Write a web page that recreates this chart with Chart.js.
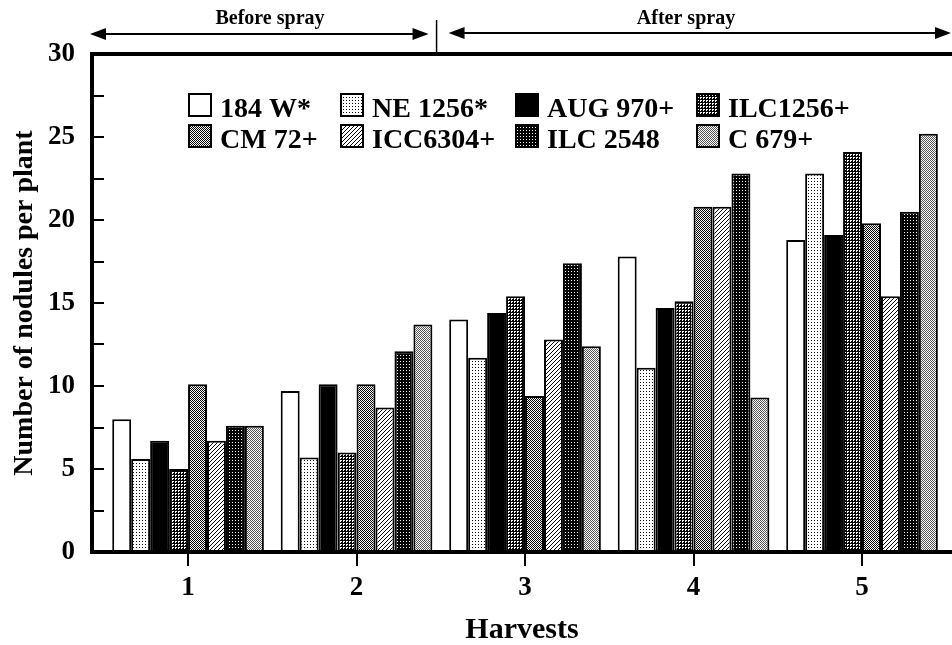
<!DOCTYPE html>
<html>
<head>
<meta charset="utf-8">
<script src="https://cdn.jsdelivr.net/npm/chart.js@4/dist/chart.umd.min.js"></script>
<style>
  html, body { margin: 0; padding: 0; background: #fff; }
  #c { display: block; }
</style>
</head>
<body>
<canvas id="c" width="952" height="645"></canvas>
<script>
// ---------- data ----------
const harvests = [1, 2, 3, 4, 5];
const seriesNames = ['184 W*', 'NE 1256*', 'AUG 970+', 'ILC1256+', 'CM 72+', 'ICC6304+', 'ILC 2548', 'C 679+'];
const v184W    = [8.0,  9.7, 14.0, 17.8, 18.8];
const vNE1256  = [5.6,  5.7, 11.7, 11.1, 22.8];
const vAUG970  = [6.7, 10.1, 14.4, 14.7, 19.1];
const vILC1256 = [5.0,  6.0, 15.4, 15.1, 24.1];
const vCM72    = [10.1, 10.1, 9.4, 20.8, 19.8];
const vICC6304 = [6.7,  8.7, 12.8, 20.8, 15.4];
const vILC2548 = [7.6, 12.1, 17.4, 22.8, 20.5];
const vC679    = [7.6, 13.7, 12.4,  9.3, 25.2];
const yTickValues = [0, 5, 10, 15, 20, 25, 30];
const periodLabels = ['Before spray', 'After spray'];
const xTitle = 'Harvests';
const yTitle = 'Number of nodules per plant';

// ---------- patterns ----------
function makePattern(w, h, bg, fg, pixels) {
  const c = document.createElement('canvas');
  c.width = w; c.height = h;
  const g = c.getContext('2d');
  g.fillStyle = bg; g.fillRect(0, 0, w, h);
  g.fillStyle = fg;
  pixels.forEach(p => g.fillRect(p[0], p[1], 1, 1));
  return g.createPattern(c, 'repeat');
}
const FONT = "'Liberation Serif', 'Times New Roman', serif";
const fills = [
  '#ffffff',
  makePattern(3, 3, '#ffffff', '#000000', [[1, 1]]),
  '#000000',
  makePattern(3, 3, '#000000', '#ffffff', [[1,1],[2,1],[1,2]]),
  makePattern(2, 2, '#ffffff', '#000000', [[0,0],[1,1]]),
  makePattern(4, 4, '#ffffff', '#000000', [[0,3],[1,2],[2,1],[3,0]]),
  makePattern(3, 3, '#000000', '#ffffff', [[1, 1]]),
  makePattern(2, 2, '#ffffff', '#555555', [[0,0],[1,1]])
];
const seriesValues = [v184W, vNE1256, vAUG970, vILC1256, vCM72, vICC6304, vILC2548, vC679];

const datasets = seriesNames.map((name, i) => ({
  label: name,
  data: harvests.map((h, j) => ({ x: h, y: seriesValues[i][j] })),
  backgroundColor: fills[i],
  borderColor: '#000',
  borderWidth: 2,
  categoryPercentage: 0.9,
  barPercentage: 1.0
}));

// ---------- plugins ----------
const decorPlugin = {
  id: 'decor',
  afterDraw(chart) {
    const ctx = chart.ctx;
    const ca = chart.chartArea;
    const xs = chart.scales.x, ys = chart.scales.y;
    ctx.save();
    ctx.strokeStyle = '#000';
    ctx.fillStyle = '#000';
    // frame lines (top, left, bottom)
    ctx.lineWidth = 4;
    ctx.beginPath(); ctx.moveTo(ca.left - 2, ca.top); ctx.lineTo(ca.right, ca.top); ctx.stroke();
    ctx.beginPath(); ctx.moveTo(ca.left, ca.top); ctx.lineTo(ca.left, ca.bottom + 2); ctx.stroke();
    ctx.beginPath(); ctx.moveTo(ca.left - 2, ca.bottom); ctx.lineTo(ca.right, ca.bottom); ctx.stroke();
    // inner y ticks
    ctx.lineWidth = 2;
    for (let v = 2.5; v < 30; v += 2.5) {
      const y = Math.round(ys.getPixelForValue(v));
      ctx.beginPath(); ctx.moveTo(ca.left, y); ctx.lineTo(ca.left + 12, y); ctx.stroke();
    }
    // spray divider
    const xd = xs.getPixelForValue(2.475);
    ctx.lineWidth = 1.5;
    ctx.beginPath(); ctx.moveTo(xd, 20); ctx.lineTo(xd, ca.top); ctx.stroke();
    // arrows
    function arrow(x1, x2, y) {
      ctx.lineWidth = 2;
      ctx.beginPath(); ctx.moveTo(x1 + 10, y); ctx.lineTo(x2 - 10, y); ctx.stroke();
      ctx.beginPath(); ctx.moveTo(x1, y); ctx.lineTo(x1 + 16, y - 6); ctx.lineTo(x1 + 16, y + 6); ctx.closePath(); ctx.fill();
      ctx.beginPath(); ctx.moveTo(x2, y); ctx.lineTo(x2 - 16, y + 6); ctx.lineTo(x2 - 16, y - 6); ctx.closePath(); ctx.fill();
    }
    arrow(ca.left - 2, xd - 8, 34);
    arrow(xd + 12, ca.right - 1, 33);
    ctx.font = "bold 20px " + FONT;
    ctx.textAlign = 'center';
    ctx.textBaseline = 'alphabetic';
    ctx.fillText(periodLabels[0], 270, 24);
    ctx.fillText(periodLabels[1], 686, 24);
    // legend
    const colX = [189, 341, 516, 697];
    const rowTop = [94, 125];
    ctx.font = "bold 28px " + FONT;
    ctx.textAlign = 'left';
    seriesNames.forEach((name, i) => {
      const r = Math.floor(i / 4), c = i % 4;
      const bx = colX[c], by = rowTop[r];
      ctx.fillStyle = fills[i];
      ctx.fillRect(bx, by, 22, 22);
      ctx.lineWidth = 2;
      ctx.strokeStyle = '#000';
      ctx.strokeRect(bx, by, 22, 22);
      ctx.fillStyle = '#000';
      ctx.fillText(name, bx + 31, by + 23);
    });
    ctx.restore();
  }
};

new Chart(document.getElementById('c'), {
  type: 'bar',
  data: { datasets },
  options: {
    responsive: false,
    animation: false,
    events: [],
    layout: { padding: { top: 54, right: 0, left: 0, bottom: 0 } },
    plugins: { legend: { display: false }, tooltip: { enabled: false } },
    scales: {
      x: {
        type: 'linear',
        min: 0.43,
        max: 5.534,
        offset: false,
        afterFit(s) { s.height = 93; },
        afterBuildTicks(s) { s.ticks = harvests.map(v => ({ value: v })); },
        border: { display: true, width: 4, color: '#000' },
        grid: { display: true, offset: false, drawOnChartArea: false, drawTicks: true, tickLength: 14, lineWidth: 2, color: '#000' },
        ticks: { color: '#000', padding: 6, font: { family: FONT, size: 27, weight: 'bold' } },
        title: { display: true, text: xTitle, color: '#000', padding: { top: 0, bottom: 0 }, font: { family: FONT, size: 30, weight: 'bold', lineHeight: 1 } }
      },
      y: {
        min: 0,
        max: 30,
        afterFit(s) { s.width = 92; },
        afterBuildTicks(s) { s.ticks = yTickValues.map(v => ({ value: v })); },
        border: { display: true, width: 4, color: '#000' },
        grid: { display: true, drawOnChartArea: false, drawTicks: false },
        ticks: { color: '#000', padding: 17, font: { family: FONT, size: 27, weight: 'bold' } },
        title: { display: true, text: yTitle, color: '#000', padding: { top: 8, bottom: 0 }, font: { family: FONT, size: 28, weight: 'bold' } }
      }
    }
  },
  plugins: [decorPlugin]
});
</script>
</body>
</html>
